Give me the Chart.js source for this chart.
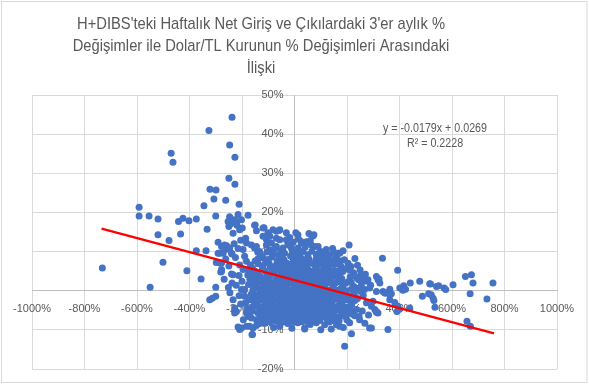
<!DOCTYPE html>
<html>
<head>
<meta charset="utf-8">
<script src="https://cdn.jsdelivr.net/npm/chart.js@4.4.0/dist/chart.umd.min.js"></script>
<style>
  body { margin: 0; background: #fff; }
  canvas { display: block; }
</style>
</head>
<body>
<canvas id="myChart" width="589" height="384"></canvas>
<script>
// title (3 lines, like the excel chart)
const titleLines = [
  "H+DIBS'teki Haftalık Net Giriş ve Çıkılardaki 3'er aylık %",
  "Değişimler ile Dolar/TL Kurunun % Değişimleri Arasındaki",
  "İlişki"
];

// axes (values are in %)
const xMin = -1000, xMax = 1000, xStep = 200;
const yMin = -20, yMax = 50, yStep = 10;

// linear trendline from excel (fraction units)
const slope = -0.0179;
const intercept = 0.0269;
const trendFrom = -735, trendTo = 760;
const trendText = ['y = -0.0179x + 0.0269', 'R² = 0.2228'];

// weekly points: [usd/tl 3m change %, H+DIBS flow 3m change %]
const points = [
  // sparse left / top
  [-732,5.8],[-592,21.3],[-592,19.1],[-554,19.1],[-520,18.3],[-520,14.3],[-478,12.8],[-501,7.3],[-550,0.9],
  [-442,17.7],[-425,18.5],[-402,17.9],[-374,18.3],[-434,14.5],[-333,15.7],[-345,21.7],[-307,23.4],[-322,25.9],[-299,25.7],[-300,19.1],
  [-374,10.2],[-337,10.2],[-410,5.1],[-356,3.0],[-300,0.9],[-300,-1.4],[-313,-1.9],[-323,-2.3],
  [-291,12.4],[-269,11.3],[-259,10.6],[-285,9.6],[-285,7.1],[-278,4.9],[-253,17.7],[-250,16.4],[-262,23.1],
  [-238,44.3],[-326,40.9],[-247,37.2],[-227,34.1],[-470,35.1],[-463,32.8],[-250,28.7],[-227,27.2],
  [-211,22.1],[-247,18.9],[-215,19.5],[-177,19.3],[-243,17.1],[-219,16.7],[-202,18.1],[-150,16.8],[-116,16.1],[-59,15.4],
  // left of zero
  [-278,11.3],[-259,11.5],[-247,10.9],[-291,9.6],[-272,9.6],[-298,7.2],[-278,7.1],[-281,4.8],[-238,9.4],[-240,4.3],
  [-238,2.0],[-200,2.4],[-192,0.1],[-211,-1.3],[-228,-5.7],[-215,-9.3],[-209,-9.9],[-171,-9.1],[-177,-6.6],[-162,-11.2],
  [-145,-8.9],[-133,-8.4],[-183,-5.7],[-164,-7.0],[-145,-7.4],[-120,-6.6],[-186,-3.1],[-158,-2.3],[-234,-2.3],[-228,-4.4],
  [-173,5.2],[-152,3.2],[-139,0.7],[-183,12.2],[-196,10.5],[-145,15.3],[-101,14.8],[-107,13.1],[-69,15.2],[-31,14.8],
  [-221,17.3],[-209,15.6],[-234,14.7],[-228,18.1],[-199,16.0],[-152,16.7],[-120,16.0],[-82,15.6],[-56,15.6],[-18,13.6],
  [13,14.3],[70,14.0],[64,11.7],[77,11.3],[90,11.3],[121,10.5],[172,9.6],[208,11.7],[-186,13.4],[-164,11.7],
  [-152,10.9],[-133,10.0],[-120,13.9],[-94,13.9],[-69,13.4],[-56,13.0],[-31,13.0],[-107,11.7],[-88,12.2],[-69,11.3],
  [-44,10.9],[-12,10.9],[13,10.9],[32,10.0],[51,9.2],[83,9.2],[109,8.7],[134,9.2],[160,8.7],
  [-266,11.7],[-240,9.6],[-209,6.6],[-196,5.4],[-183,7.5],[-158,4.5],[-145,3.2],[-202,0.3],[-190,0.3],[-171,-2.3],
  [-221,-5.3],[-158,-4.0],[-133,-5.7],[-234,4.1],[-278,5.4],
  [-262,8.1],[-250,6.3],[-225,8.5],[-215,10.8],[-205,12.9],[-190,8.8],[-230,12.0],[-268,2.9],[-252,0.8],[-222,1.4],
  [-212,3.9],[-190,-1.4],[-205,-3.4],[-246,-0.5],[-175,1.6],[-180,-4.5],[-195,-7.4],
  // lower edge
  [-160,-11.2],[-183,-9.1],[-158,-9.5],[-202,-9.5],[-126,-8.2],[-101,-7.8],[-69,-7.8],[-56,-9.1],[-31,-7.4],[-6,-7.0],
  [13,-8.2],[39,-9.5],[83,-8.2],[115,-8.7],[160,-8.7],[172,-9.1],[191,-14.2],[217,-11.0],[286,-9.5],[-171,-5.7],
  // right side
  [335,8.3],[393,5.2],[280,2.8],[322,3.0],[325,2.0],[363,0.4],[369,-0.8],[401,0.7],[416,1.3],[441,2.0],
  [477,2.4],[518,1.7],[541,1.1],[549,1.3],[570,0.7],[604,1.5],[651,3.6],[674,4.1],[680,2.0],[756,2.0],
  [487,-1.4],[511,-0.8],[521,-1.0],[531,-2.5],[535,-4.2],[669,-0.8],[733,-2.1],[657,-7.8],[670,-9.1],[439,-4.4],
  [390,-5.3],[356,-9.9],[293,-9.5],[246,-6.6],[248,-7.4],[312,-5.3],[318,-5.7],[363,-2.3],[382,-3.0],[274,-3.1],
  [293,-4.0],[267,0.3],[286,0.7],[312,-0.2],[255,1.5],[276,2.4],[337,-0.2],[347,-0.6],[515,1.8],[576,0.3],
  [413,0.1],[423,0.4],[394,-4.0],[398,-4.8],[312,3.6],[318,2.8],[299,-2.7],[306,-4.8],[312,-5.5],[344,-0.6],
  [363,-1.0],[528,-1.9],[74,14.3],[26,12.2],[39,-9.8],[166,9.6],[230,-2.5],[262,-1.2],[250,3.8],[282,-6.2],
  [205,-5.8],[268,-8.3],[236,0.6],[290,1.4],[5,14.8],[15,13.2],[45,12.5],[55,14.6],
  // dense middle
  [-140,9.8],[-95,10.4],[-60,9.1],[-25,11.8],[5,9.6],[40,11.1],[100,10.0],[145,10.8],[-120,8.4],[-75,10.9],
  [-5,12.4],[60,12.8],[185,10.2],
  [-130,9.5],[-104,9.9],[-80,9.4],[-52,10.2],[-38,9.6],[-8,9.9],[22,9.5],[66,10.1],[92,9.6],[120,9.1],
  [-145,11.3],[-20,11.6],[25,12.6],[150,9.9],
  [-140,8.1],[-100,8.0],[-58,8.2],[-40,7.9],[-6,8.3],[12,8.0],[30,8.1],[46,7.8],[82,8.0],[106,8.2],
  [128,7.9],[154,8.0],[176,7.6],
  [-150,7.6],[-128,8.9],[-110,7.2],[-85,8.6],[-66,7.5],[-48,8.8],[-30,7.1],[-15,8.9],[2,7.4],[20,8.3],
  [38,7.1],[55,8.1],[72,6.9],[95,7.8],[118,7.0],[140,7.6],[165,6.8],[190,7.9],[230,8.2],[215,6.2],
  [-168,6.6],[-138,6.9],[-120,6.4],[-97,7.0],[-74,6.3],[-56,6.8],[-38,6.2],[-22,6.6],[-8,7.0],[10,6.3],
  [28,6.9],[46,6.4],[62,7.1],[86,6.5],[104,6.9],[130,6.2],[152,6.7],[178,6.1],[204,7.0],[240,6.5],
  [-160,5.8],[-140,4.6],[-122,5.6],[-104,4.2],[-92,6.1],[-78,4.8],[-60,5.9],[-44,4.4],[-30,5.6],[-18,4.0],
  [-4,5.9],[10,4.6],[24,6.0],[36,4.3],[50,5.5],[64,4.1],[80,5.7],[96,4.4],[112,5.9],[126,4.3],
  [150,5.1],[172,4.4],[196,5.6],[225,4.6],[250,5.3],[270,4.2],
  [-150,5.0],[-112,5.1],[-86,4.9],[-68,5.2],[-52,5.0],[-36,4.8],[-12,5.0],[2,4.9],[16,5.2],[30,5.0],
  [44,4.8],[58,5.1],[72,5.0],[88,4.9],[104,5.1],[120,5.0],[138,4.8],[162,5.0],[184,4.9],[210,5.2],
  [-178,4.0],[-158,3.4],[-130,3.7],[-112,3.2],[-92,3.8],[-66,3.4],[-52,3.9],[-36,3.2],[-24,3.8],[-10,3.3],
  [4,3.9],[18,3.5],[32,3.7],[46,3.2],[58,3.8],[74,3.3],[90,3.6],[104,3.2],[120,3.7],[138,3.3],
  [158,3.6],[180,3.1],[212,3.5],[236,3.3],[262,3.0],
  [-170,2.9],[-150,1.4],[-130,2.6],[-116,1.1],[-100,2.9],[-86,1.3],[-72,2.7],[-58,1.0],[-44,2.6],[-30,1.4],
  [-16,3.0],[-2,1.2],[12,2.8],[26,1.0],[40,2.5],[54,1.3],[68,2.9],[82,1.1],[98,2.6],[114,1.0],
  [130,2.7],[148,1.2],[166,2.9],[184,1.0],[204,2.3],[226,1.1],[244,2.8],
  [-160,2.1],[-140,2.0],[-122,2.2],[-108,1.9],[-94,2.1],[-78,2.0],[-64,2.2],[-50,1.9],[-36,2.1],[-22,2.0],
  [-8,2.2],[6,1.9],[20,2.1],[34,2.0],[48,2.2],[62,1.9],[76,2.1],[90,2.0],[106,2.1],[122,1.9],
  [138,2.1],[156,2.0],[174,2.2],[194,1.9],[216,2.1],
  [-158,0.3],[-124,0.1],[-108,0.5],[-94,0.2],[-80,0.6],[-66,0.2],[-52,0.5],[-38,0.1],[-24,0.4],[-10,0.0],
  [4,0.5],[18,0.2],[32,0.6],[46,0.3],[60,0.0],[74,0.4],[88,0.1],[104,0.5],[122,0.2],[140,0.4],
  [160,0.1],[176,0.5],[196,0.0],[216,0.4],[252,-0.2],
  [-165,-0.9],[-146,-1.8],[-132,-0.4],[-118,-1.9],[-104,-0.6],[-90,-1.7],[-76,-0.3],[-62,-1.9],[-48,-0.7],[-34,-1.6],
  [-20,-0.2],[-6,-1.8],[8,-0.6],[22,-1.5],[36,-0.2],[50,-1.9],[64,-0.7],[78,-1.6],[92,-0.4],[106,-1.8],
  [120,-0.5],[136,-1.7],[152,-0.3],[170,-1.4],[188,-0.6],[206,-1.8],[228,-0.8],[240,-2.0],
  [-152,-1.0],[-126,-1.1],[-110,-1.2],[-96,-0.9],[-84,-1.1],[-68,-1.0],[-56,-1.2],[-40,-0.9],[-26,-1.1],[-12,-1.0],
  [2,-1.2],[16,-0.9],[30,-1.1],[44,-1.0],[58,-1.2],[72,-0.9],[86,-1.1],[100,-1.0],[114,-1.2],[130,-0.9],
  [146,-1.1],[162,-1.0],[180,-1.2],[198,-0.9],[218,-1.3],
  [-138,-2.6],[-124,-2.3],[-108,-2.7],[-96,-2.2],[-82,-2.6],[-70,-2.2],[-56,-2.7],[-42,-2.3],[-28,-2.6],[-14,-2.2],
  [0,-2.6],[14,-2.3],[28,-2.7],[42,-2.2],[56,-2.5],[70,-2.3],[84,-2.7],[98,-2.2],[112,-2.6],[128,-2.4],
  [144,-2.6],[162,-2.2],[180,-2.6],[198,-2.3],[216,-2.7],
  [-150,-3.6],[-128,-4.8],[-112,-3.2],[-96,-4.4],[-82,-3.0],[-68,-4.9],[-54,-3.4],[-40,-4.6],[-26,-3.1],[-12,-4.8],
  [2,-3.3],[16,-4.5],[30,-3.0],[44,-4.9],[58,-3.6],[72,-4.7],[86,-3.2],[100,-4.5],[114,-3.4],[128,-4.9],
  [142,-3.1],[158,-4.4],[176,-3.3],[196,-4.6],[218,-3.5],[236,-4.8],[258,-5.2],
  [-140,-4.0],[-120,-4.1],[-104,-3.8],[-88,-4.1],[-76,-3.9],[-60,-4.2],[-46,-3.8],[-32,-4.0],[-18,-4.1],[-4,-3.9],
  [10,-4.0],[24,-4.2],[38,-3.8],[52,-4.1],[66,-3.9],[80,-4.1],[94,-3.8],[108,-4.0],[122,-4.2],[136,-3.9],
  [150,-4.1],[168,-3.8],[186,-4.0],[206,-4.1],
  [-160,-5.2],[-140,-5.6],[-124,-5.3],[-110,-5.5],[-94,-5.1],[-80,-5.6],[-62,-5.2],[-46,-5.4],[-32,-5.0],[-16,-5.5],
  [-2,-5.1],[12,-5.5],[26,-5.1],[38,-5.6],[52,-5.2],[66,-5.5],[80,-5.1],[94,-5.5],[118,-5.2],[134,-5.6],
  [150,-5.3],[168,-5.0],[188,-5.4],[214,-5.2],[230,-6.4],
  [-118,-6.4],[-104,-7.2],[-88,-5.9],[-74,-6.8],[-50,-6.1],[-36,-6.9],[-20,-5.8],[-8,-6.4],[6,-5.8],[22,-6.6],
  [34,-7.4],[48,-6.1],[62,-7.0],[76,-5.9],[92,-6.8],[108,-6.0],[124,-7.2],[140,-6.1],[156,-7.0],[180,-6.3],
  [-130,-6.8],[-96,-6.4],[-82,-7.2],[-66,-6.3],[-58,-7.6],[-42,-6.6],[-28,-7.0],[-14,-6.5],[0,-7.1],[14,-6.4],
  [28,-6.9],[42,-7.1],[56,-6.5],[84,-7.1],[100,-6.5],[116,-6.7],[132,-6.9],[148,-6.5],[166,-6.7],[194,-6.6],
  [200,-7.5],[222,-6.0],[186,-9.4],[140,-9.8],[60,-8.6],[-80,-9.4],[-10,-9.6],[100,-10.0],
  [-112,-8.3],[-92,-8.0],[-62,-7.2],[-44,-8.0],[-26,-8.4],[-14,-7.8],[0,-8.0],[28,-7.9],[50,-7.9],[70,-7.6],
  [96,-7.6],[132,-8.0],[148,-7.7],[170,-7.6],[210,-8.2],[-138,-7.4]
];

const grey = '#595959';

// trendline end points from the equation
const trend = [trendFrom, trendTo].map(function (x) {
  return { x: x, y: (slope * x / 100 + intercept) * 100 };
});

const decor = {
  id: 'decor',
  beforeDraw(chart) {
    const c = chart.ctx;
    c.save();
    c.fillStyle = '#fff';
    c.fillRect(0, 0, chart.width, chart.height);
    c.restore();
  },
  afterDraw(chart) {
    const c = chart.ctx;
    c.save();
    c.fillStyle = grey;
    c.textAlign = 'center';
    c.textBaseline = 'alphabetic';

    // title, squeezed a bit to look like Calibri
    c.font = '17px "Liberation Sans"';
    let sx = 368 / c.measureText(titleLines[0]).width;
    let base = [28.5, 50.5, 72.5];
    titleLines.forEach(function (t, i) {
      c.save();
      c.translate(261, base[i]);
      c.scale(sx, 1);
      c.fillText(t, 0, 0);
      c.restore();
    });

    // trendline label
    c.font = '12px "Liberation Sans"';
    sx = 104 / c.measureText(trendText[0]).width;
    [131.5, 146.5].forEach(function (y, i) {
      c.save();
      c.translate(435, y);
      c.scale(sx, 1);
      c.fillText(trendText[i], 0, 0);
      c.restore();
    });

    // outer frame
    c.strokeStyle = '#d9d9d9';
    c.lineWidth = 1;
    c.strokeRect(1.5, 1.5, 585.5, 381);
    c.restore();
  }
};

const tickFont = { family: 'Liberation Sans', size: 11 };

new Chart(document.getElementById('myChart'), {
  type: 'scatter',
  data: {
    datasets: [
      {
        data: trend,
        showLine: true,
        borderColor: '#ff0000',
        borderWidth: 2.25,
        pointRadius: 0,
        pointHoverRadius: 0
      },
      {
        data: points.map(function (p) { return { x: p[0], y: p[1] }; }),
        backgroundColor: '#4472c4',
        borderColor: '#4472c4',
        borderWidth: 0,
        pointRadius: 3.5,
        pointHoverRadius: 3.5
      }
    ]
  },
  options: {
    responsive: false,
    animation: false,
    layout: { padding: { left: 32, right: 32, top: 95, bottom: 15 } },
    plugins: {
      legend: { display: false },
      title: { display: false },
      tooltip: { enabled: false }
    },
    scales: {
      x: {
        type: 'linear',
        position: { y: 0 },
        min: xMin, max: xMax,
        grid: { color: '#d9d9d9', drawTicks: false },
        border: { color: '#bfbfbf' },
        ticks: {
          stepSize: xStep, padding: 12, color: grey, font: tickFont,
          maxRotation: 0, autoSkip: false,
          callback: function (v) { return v + '%'; }
        }
      },
      y: {
        type: 'linear',
        position: { x: 0 },
        min: yMin, max: yMax,
        grid: { color: '#d9d9d9', drawTicks: false },
        border: { color: '#bfbfbf' },
        ticks: {
          stepSize: yStep, padding: 0, color: grey, font: tickFont,
          // label sits left of the centre axis, em space keeps it off the line
          callback: function (v) { return v + '%\u2003'; }
        }
      }
    }
  },
  plugins: [decor]
});
</script>
</body>
</html>
